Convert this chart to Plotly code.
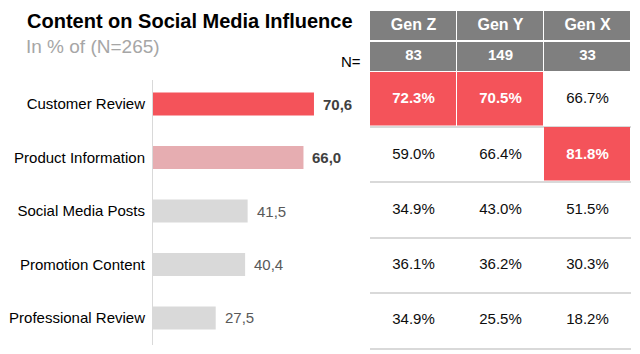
import plotly.graph_objects as go

# ---------------- data ----------------
categories = ["Customer Review", "Product Information", "Social Media Posts",
              "Promotion Content", "Professional Review"]
overall = [70.6, 66.0, 41.5, 40.4, 27.5]
generations = ["Gen Z", "Gen Y", "Gen X"]
gen_n = [83, 149, 33]
gen_z = [72.3, 59.0, 34.9, 36.1, 34.9]
gen_y = [70.5, 66.4, 43.0, 36.2, 25.5]
gen_x = [66.7, 81.8, 51.5, 30.3, 18.2]
# highlighted cells (row-wise, Gen Z / Gen Y / Gen X)
highlight = [[1, 1, 0], [0, 0, 1], [0, 0, 0], [0, 0, 0], [0, 0, 0]]
bar_emphasis = [1, 1, 0, 0, 0]
title = "Content on Social Media Influence"
subtitle = "In % of (N=265)"

# ---------------- style ----------------
W, H = 640, 354
FONT = "Liberation Sans, Arial, sans-serif"
RED = "#F4535A"
PINK = "#E6ADB1"
LIGHT = "#D9D9D9"
HDR = "#7F7F7F"
bar_colors = [RED, PINK, LIGHT, LIGHT, LIGHT]


def px(x):
    return x / W


def py(y):
    return 1 - y / H


fig = go.Figure()

# bar chart
fig.add_trace(go.Bar(
    x=overall, y=categories, orientation="h",
    marker=dict(color=bar_colors, line=dict(width=0)),
    width=0.43, hoverinfo="skip", xaxis="x", yaxis="y",
))

# table header
hdr_rows = ["hdr", "n"]
fig.add_trace(go.Heatmap(
    x=generations, y=hdr_rows, z=[[1, 1, 1], [1, 1, 1]],
    colorscale=[[0, HDR], [1, HDR]], showscale=False, xgap=1, ygap=2,
    hoverinfo="skip", xaxis="x2", yaxis="y2",
))
fig.add_trace(go.Scatter(
    x=generations + generations,
    y=["hdr"] * 3 + ["n"] * 3,
    text=[f"<b>{g}</b>" for g in generations] + [f"<b>{n}</b>" for n in gen_n],
    mode="text",
    textfont=dict(family=FONT, color="white", size=[16] * 3 + [15] * 3),
    hoverinfo="skip", xaxis="x2", yaxis="y2",
))

# table body
cols = [gen_z, gen_y, gen_x]
zbody = [[1 if highlight[i][j] else None for j in range(3)] for i in range(len(categories))]
fig.add_trace(go.Heatmap(
    x=generations, y=categories, z=zbody,
    colorscale=[[0, RED], [1, RED]], zmin=0, zmax=1, showscale=False,
    xgap=1, ygap=1.5, hoverinfo="skip", xaxis="x3", yaxis="y3",
))
tx, ty, tt, tc = [], [], [], []
for i, cat in enumerate(categories):
    for j, g in enumerate(generations):
        v = cols[j][i]
        tx.append(g)
        ty.append(cat)
        if highlight[i][j]:
            tt.append(f"<b>{v:.1f}%</b>")
            tc.append("white")
        else:
            tt.append(f"{v:.1f}%")
            tc.append("#0D0D0D")
fig.add_trace(go.Scatter(
    x=tx, y=ty, text=tt, mode="text",
    textfont=dict(family=FONT, color=tc, size=15),
    hoverinfo="skip", xaxis="x3", yaxis="y3",
))

annotations = []
for v, cat, e in zip(overall, categories, bar_emphasis):
    s = f"{v:.1f}".replace(".", ",")
    annotations.append(dict(
        x=v, y=cat, xref="x", yref="y", xanchor="left", yanchor="middle",
        xshift=7, showarrow=False,
        text=f"<b>{s}</b>" if e else s,
        font=dict(family=FONT, size=15, color="#404040" if e else "#595959"),
    ))
annotations.append(dict(
    x=px(25), y=py(21), xref="paper", yref="paper", xanchor="left", yanchor="middle",
    showarrow=False, text=f"<b>{title}</b>",
    font=dict(family=FONT, size=20, color="#000000"),
))
annotations.append(dict(
    x=px(24), y=py(46), xref="paper", yref="paper", xanchor="left", yanchor="middle",
    showarrow=False, text=subtitle,
    font=dict(family=FONT, size=19, color="#A6A6A6"),
))
annotations.append(dict(
    x=px(363), y=py(61), xref="paper", yref="paper", xanchor="right", yanchor="middle",
    showarrow=False, text="N=",
    font=dict(family=FONT, size=15, color="#000000"),
))

fig.update_layout(
    width=W, height=H, margin=dict(l=0, r=0, t=0, b=0),
    paper_bgcolor="white", plot_bgcolor="white", showlegend=False,
    font=dict(family=FONT),
    annotations=annotations,
    xaxis=dict(domain=[px(153), px(358.2)], range=[0, 90], visible=False,
               fixedrange=True),
    yaxis=dict(domain=[py(345), py(80)], type="category", categoryarray=categories,
               range=[4.505, -0.449], showline=True, linecolor=LIGHT, linewidth=1,
               ticks="", showgrid=False, zeroline=False, ticklabelstandoff=4,
               tickfont=dict(family=FONT, size=15, color="#000000"), anchor="x"),
    xaxis2=dict(domain=[px(370), px(631)], type="category", categoryarray=generations,
                range=[-0.5, 2.5], visible=False, anchor="y2"),
    yaxis2=dict(domain=[py(72), py(10)], type="category", categoryarray=hdr_rows,
                range=[1.5, -0.5], visible=False, anchor="x2"),
    xaxis3=dict(domain=[px(370), px(631)], type="category", categoryarray=generations,
                range=[-0.5, 2.5], showticklabels=False, ticks="", showgrid=False,
                zeroline=False, showline=True, linecolor=LIGHT, linewidth=1.5,
                anchor="y3"),
    yaxis3=dict(domain=[py(348), py(72)], type="category", categoryarray=categories,
                range=[4.5, -0.5], tickson="boundaries", showgrid=True,
                gridcolor=LIGHT, gridwidth=1.5, showticklabels=False, ticks="",
                zeroline=False, showline=False, anchor="x3"),
)

fig.write_html("out.html")
